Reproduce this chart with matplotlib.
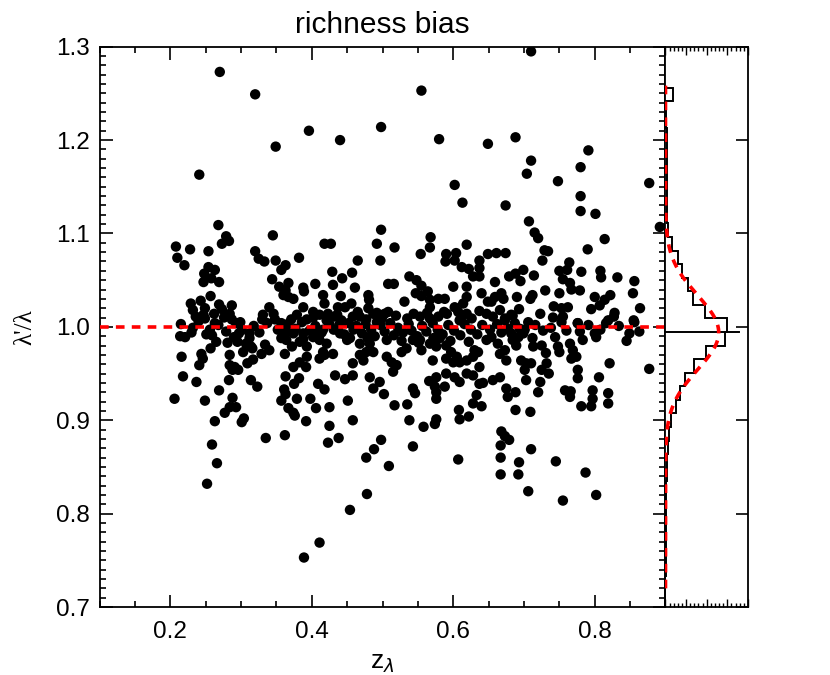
import numpy as np
import matplotlib
matplotlib.use('Agg')
import matplotlib.pyplot as plt
from matplotlib.ticker import MultipleLocator, FormatStrFormatter

plt.rcParams['font.family'] = ['Liberation Sans', 'DejaVu Sans']

# scatter points in strips (z_lambda, lambda'/lambda)
# strip 1: z < 0.43, above the line
z_a = [0.270, 0.320, 0.396, 0.349, 0.241, 0.268, 0.279, 0.283, 0.273, 0.345,
       0.418, 0.208, 0.228, 0.254, 0.210, 0.220, 0.320, 0.325, 0.333, 0.349,
       0.357, 0.363, 0.382, 0.254, 0.263, 0.248, 0.258, 0.247, 0.269, 0.344,
       0.354, 0.367, 0.363, 0.367, 0.374, 0.360, 0.388, 0.389, 0.405, 0.257,
       0.243, 0.229, 0.232, 0.249, 0.247, 0.249, 0.269, 0.273, 0.262, 0.287,
       0.284, 0.287, 0.299, 0.263, 0.331, 0.340, 0.346, 0.348, 0.357, 0.388,
       0.379, 0.393, 0.371, 0.402, 0.411, 0.416, 0.418]
r_a = [1.273, 1.249, 1.210, 1.193, 1.163, 1.109, 1.097, 1.092, 1.089, 1.098,
       1.089, 1.086, 1.083, 1.081, 1.074, 1.066, 1.081, 1.073, 1.070, 1.071,
       1.061, 1.066, 1.074, 1.064, 1.061, 1.057, 1.052, 1.048, 1.048, 1.051,
       1.043, 1.047, 1.039, 1.032, 1.030, 1.034, 1.042, 1.038, 1.046, 1.033,
       1.028, 1.025, 1.018, 1.020, 1.013, 1.009, 1.024, 1.019, 1.014, 1.023,
       1.014, 1.008, 1.005, 1.004, 1.013, 1.021, 1.014, 1.008, 1.004, 1.021,
       1.013, 1.008, 1.008, 1.010, 1.013, 1.034, 1.025]

# strip 2: z < 0.43, below the line
z_b = [0.214, 0.221, 0.230, 0.251, 0.265, 0.257, 0.281, 0.290, 0.297, 0.295,
       0.307, 0.314, 0.312, 0.216, 0.244, 0.246, 0.241, 0.284, 0.303, 0.316,
       0.334, 0.340, 0.329, 0.284, 0.291, 0.296, 0.288, 0.309, 0.317, 0.218,
       0.237, 0.283, 0.314, 0.323, 0.269, 0.206, 0.249, 0.288, 0.284, 0.293,
       0.277, 0.263, 0.301, 0.304, 0.259, 0.266, 0.252, 0.335, 0.362, 0.364,
       0.372, 0.383, 0.393, 0.402, 0.411, 0.421, 0.416, 0.407, 0.388, 0.374,
       0.364, 0.362, 0.374, 0.383, 0.393, 0.392, 0.411, 0.418, 0.416, 0.363,
       0.375, 0.382, 0.409, 0.418, 0.361, 0.363, 0.357, 0.379, 0.398, 0.406,
       0.367, 0.374, 0.376, 0.392, 0.425, 0.425, 0.423, 0.411, 0.389, 0.430,
       0.433]
r_b = [0.990, 0.989, 0.994, 0.992, 0.984, 0.977, 0.983, 0.989, 0.993, 0.984,
       0.982, 0.979, 0.993, 0.968, 0.971, 0.966, 0.959, 0.970, 0.973, 0.977,
       0.981, 0.975, 0.971, 0.959, 0.957, 0.954, 0.954, 0.961, 0.965, 0.947,
       0.941, 0.943, 0.943, 0.936, 0.932, 0.923, 0.921, 0.924, 0.914, 0.914,
       0.908, 0.899, 0.898, 0.902, 0.874, 0.854, 0.832, 0.881, 0.884, 0.986,
       0.979, 0.984, 0.979, 0.989, 0.986, 0.982, 0.997, 0.993, 0.993, 0.993,
       0.995, 0.971, 0.957, 0.962, 0.968, 0.957, 0.966, 0.970, 0.973, 0.947,
       0.939, 0.945, 0.939, 0.933, 0.933, 0.928, 0.921, 0.923, 0.923, 0.913,
       0.913, 0.908, 0.905, 0.899, 0.914, 0.894, 0.876, 0.769, 0.753, 0.971,
       0.948]

# strip 3: 0.42 < z < 0.65, above the line
z_c = [0.555, 0.498, 0.440, 0.580, 0.649, 0.602, 0.613, 0.498, 0.427, 0.492,
       0.517, 0.497, 0.568, 0.567, 0.554, 0.619, 0.590, 0.604, 0.589, 0.602,
       0.612, 0.622, 0.637, 0.637, 0.649, 0.628, 0.637, 0.619, 0.600, 0.465,
       0.429, 0.457, 0.443, 0.430, 0.461, 0.441, 0.508, 0.516, 0.538, 0.548,
       0.555, 0.547, 0.555, 0.564, 0.567, 0.579, 0.588, 0.567, 0.531, 0.480,
       0.481, 0.480, 0.487, 0.503, 0.508, 0.499, 0.492, 0.456, 0.447, 0.437,
       0.423, 0.433, 0.421, 0.442, 0.458, 0.468, 0.477, 0.602, 0.607, 0.619,
       0.626, 0.637, 0.647, 0.649, 0.640, 0.619, 0.614, 0.535, 0.553, 0.567,
       0.579, 0.591, 0.609]
r_c = [1.253, 1.214, 1.200, 1.201, 1.196, 1.152, 1.133, 1.104, 1.089, 1.089,
       1.085, 1.071, 1.096, 1.085, 1.078, 1.088, 1.078, 1.079, 1.070, 1.071,
       1.064, 1.062, 1.071, 1.063, 1.078, 1.054, 1.054, 1.043, 1.043, 1.071,
       1.059, 1.058, 1.052, 1.045, 1.042, 1.033, 1.046, 1.046, 1.054, 1.050,
       1.044, 1.036, 1.033, 1.038, 1.029, 1.030, 1.030, 1.021, 1.027, 1.034,
       1.029, 1.020, 1.014, 1.014, 1.016, 1.009, 1.005, 1.025, 1.021, 1.021,
       1.014, 1.011, 1.007, 1.007, 1.011, 1.011, 1.008, 1.021, 1.016, 1.014,
       1.009, 1.017, 1.014, 1.027, 1.036, 1.032, 1.025, 1.009, 1.011, 1.009,
       1.011, 1.014, 1.007]

# strip 4: 0.43 < z < 0.65, below the line
z_d = [0.440, 0.454, 0.468, 0.482, 0.477, 0.468, 0.458, 0.473, 0.487, 0.506,
       0.513, 0.520, 0.515, 0.527, 0.534, 0.543, 0.553, 0.555, 0.567, 0.576,
       0.581, 0.590, 0.597, 0.605, 0.609, 0.619, 0.628, 0.635, 0.637, 0.630,
       0.647, 0.447, 0.458, 0.482, 0.496, 0.487, 0.502, 0.517, 0.535, 0.543,
       0.546, 0.566, 0.576, 0.574, 0.588, 0.576, 0.576, 0.590, 0.602, 0.609,
       0.619, 0.628, 0.637, 0.642, 0.633, 0.628, 0.640, 0.608, 0.609, 0.622,
       0.571, 0.590, 0.600, 0.458, 0.438, 0.451, 0.498, 0.488, 0.477, 0.509,
       0.538, 0.558, 0.576, 0.574, 0.543, 0.607, 0.478, 0.454]
r_d = [0.993, 0.988, 0.982, 0.982, 0.973, 0.970, 0.961, 0.964, 0.973, 0.968,
       0.962, 0.959, 0.952, 0.973, 0.977, 0.986, 0.986, 0.975, 0.982, 0.979,
       0.988, 0.980, 0.973, 0.968, 0.962, 0.964, 0.968, 0.973, 0.957, 0.975,
       0.986, 0.944, 0.948, 0.946, 0.941, 0.934, 0.928, 0.916, 0.917, 0.934,
       0.929, 0.942, 0.946, 0.936, 0.936, 0.923, 0.930, 0.950, 0.946, 0.941,
       0.950, 0.948, 0.939, 0.940, 0.927, 0.918, 0.915, 0.911, 0.901, 0.904,
       0.964, 0.966, 0.962, 0.900, 0.881, 0.921, 0.879, 0.869, 0.860, 0.851,
       0.900, 0.893, 0.901, 0.896, 0.872, 0.858, 0.821, 0.804]

# strip 5: z > 0.65, above the line
z_e = [0.710, 0.688, 0.710, 0.704, 0.748, 0.791, 0.780, 0.877, 0.674, 0.780,
       0.780, 0.801, 0.707, 0.715, 0.720, 0.814, 0.790, 0.892, 0.729, 0.734,
       0.726, 0.661, 0.674, 0.699, 0.688, 0.679, 0.695, 0.714, 0.659, 0.750,
       0.764, 0.761, 0.755, 0.765, 0.767, 0.779, 0.781, 0.750, 0.742, 0.808,
       0.809, 0.832, 0.856, 0.854, 0.822, 0.814, 0.800, 0.807, 0.795, 0.828,
       0.864, 0.855, 0.819, 0.776, 0.755, 0.753, 0.762, 0.659, 0.668, 0.671,
       0.654, 0.656, 0.673, 0.682, 0.666, 0.690, 0.693, 0.709, 0.712, 0.730,
       0.723, 0.706, 0.677, 0.694]
r_e = [1.295, 1.203, 1.178, 1.164, 1.156, 1.189, 1.171, 1.154, 1.130, 1.140,
       1.124, 1.121, 1.113, 1.101, 1.095, 1.094, 1.083, 1.107, 1.082, 1.081,
       1.071, 1.079, 1.079, 1.061, 1.057, 1.054, 1.049, 1.055, 1.048, 1.060,
       1.069, 1.061, 1.051, 1.047, 1.040, 1.039, 1.059, 1.036, 1.022, 1.060,
       1.053, 1.053, 1.049, 1.036, 1.034, 1.029, 1.032, 1.023, 1.019, 1.015,
       1.020, 1.007, 1.007, 1.004, 1.011, 1.020, 1.021, 1.032, 1.036, 1.030,
       1.027, 1.011, 1.009, 1.013, 1.018, 1.032, 1.019, 1.030, 1.034, 1.039,
       1.014, 1.005, 0.998, 0.998]

# strip 6: z > 0.65, below the line
z_f = [0.654, 0.663, 0.673, 0.666, 0.675, 0.682, 0.684, 0.692, 0.689, 0.699,
       0.696, 0.703, 0.710, 0.701, 0.703, 0.713, 0.725, 0.731, 0.732, 0.725,
       0.735, 0.723, 0.748, 0.750, 0.765, 0.769, 0.774, 0.767, 0.776, 0.776,
       0.802, 0.800, 0.806, 0.821, 0.849, 0.863, 0.856, 0.816, 0.779, 0.727,
       0.753, 0.776, 0.673, 0.877, 0.656, 0.666, 0.675, 0.677, 0.688, 0.688,
       0.709, 0.720, 0.758, 0.765, 0.766, 0.781, 0.795, 0.797, 0.797, 0.819,
       0.819, 0.668, 0.673, 0.679, 0.667, 0.667, 0.667, 0.693, 0.692, 0.710,
       0.706, 0.745, 0.755, 0.787, 0.802]
r_f = [0.989, 0.982, 0.975, 0.971, 0.964, 0.993, 0.986, 0.989, 0.980, 0.993,
       0.964, 0.961, 0.961, 0.954, 0.943, 0.979, 0.980, 0.972, 0.961, 0.954,
       0.950, 0.941, 0.979, 0.973, 0.982, 0.975, 0.968, 0.966, 0.954, 0.945,
       0.989, 0.993, 0.946, 0.961, 0.993, 0.995, 1.005, 1.004, 0.995, 0.996,
       1.005, 1.004, 1.007, 0.955, 0.943, 0.946, 0.934, 0.925, 0.930, 0.911,
       0.909, 0.930, 0.932, 0.925, 0.931, 0.915, 0.915, 0.923, 0.932, 0.929,
       0.918, 0.888, 0.883, 0.879, 0.873, 0.860, 0.842, 0.855, 0.842, 0.869,
       0.824, 0.856, 0.814, 0.844, 0.820]

# the solid band right around 1.0
z_g = [0.215, 0.232, 0.240, 0.256, 0.268, 0.279, 0.293, 0.301, 0.318, 0.326,
       0.337, 0.352, 0.366, 0.377, 0.386, 0.397, 0.405, 0.414, 0.425, 0.431,
       0.439, 0.446, 0.452, 0.459, 0.463, 0.471, 0.476, 0.484, 0.489, 0.497,
       0.503, 0.511, 0.516, 0.522, 0.529, 0.537, 0.541, 0.549, 0.556, 0.562,
       0.571, 0.578, 0.585, 0.593, 0.601, 0.610, 0.616, 0.625, 0.634, 0.641,
       0.652, 0.662, 0.668, 0.687, 0.701, 0.716, 0.738, 0.744, 0.760, 0.791,
       0.808, 0.834, 0.436, 0.450, 0.465, 0.479, 0.492, 0.506, 0.519, 0.527,
       0.544, 0.551, 0.563, 0.572, 0.587, 0.596, 0.612, 0.622, 0.388, 0.402,
       0.357, 0.330, 0.312, 0.276, 0.259, 0.236, 0.684, 0.712, 0.741, 0.783,
       0.827, 0.845]
r_g = [1.003, 0.999, 1.006, 0.997, 1.002, 0.995, 1.004, 0.997, 1.001, 0.994,
       1.004, 0.997, 1.003, 0.998, 1.005, 0.996, 1.001, 0.994, 1.003, 0.997,
       1.002, 0.992, 1.004, 0.997, 1.001, 0.993, 1.003, 0.997, 0.990, 1.002,
       0.995, 1.004, 0.991, 0.999, 0.994, 1.003, 0.996, 0.990, 1.001, 0.995,
       1.004, 0.997, 0.992, 1.002, 0.996, 0.991, 1.003, 0.997, 0.992, 1.002,
       0.997, 1.003, 0.994, 1.004, 0.997, 1.002, 0.999, 0.989, 0.996, 1.002,
       0.997, 1.001, 1.013, 0.986, 1.016, 0.988, 1.015, 0.986, 1.012, 0.985,
       1.014, 0.983, 1.015, 0.988, 1.016, 0.985, 1.012, 0.984, 0.987, 1.016,
       0.988, 1.008, 0.988, 1.010, 0.991, 1.011, 1.012, 0.988, 1.010, 0.986,
       1.011, 0.985]

z_lambda = np.concatenate([z_a, z_b, z_c, z_d, z_e, z_f, z_g])
ratio = np.concatenate([r_a, r_b, r_c, r_d, r_e, r_f, r_g])

# side histogram (arbitrary units), bottom bin first
hist_lo, hist_hi = 0.704, 1.256
hist_counts = [0, 0, 0.4, 0.8, 0.4, 0.8, 0.8, 1.2, 1.2, 1.8,
               2.4, 3.3, 4.8, 7.2, 12.9, 18.1, 24.1, 34.1, 49.0, 72.3,
               74.3, 47.3, 32.9, 27.3, 20.1, 15.3, 8.1, 3.3, 1.8, 1.8,
               1.8, 1.8, 1.8, 1.8, 1.8, 0.8, 0.8, 8.8]
# gaussian fit drawn over it
gauss_amp, gauss_mu, gauss_sigma = 64.5, 0.994, 0.0396
gauss_range = (0.72, 1.26)
peak_mark = 89

fig = plt.figure(figsize=(8.3, 6.75), dpi=100)
ax = fig.add_axes([0.1199, 0.1007, 0.6819, 0.8301])
axh = fig.add_axes([0.8018, 0.1007, 0.0994, 0.8301])

ax.scatter(z_lambda, ratio, s=56, c='black', edgecolors='none', zorder=2)
ax.axhline(1.0, color='red', lw=2.6, dashes=(2.4, 2.0), zorder=3)

ax.set_xlim(0.1, 0.9)
ax.set_ylim(0.7, 1.3)
ax.xaxis.set_major_locator(MultipleLocator(0.2))
ax.xaxis.set_minor_locator(MultipleLocator(0.05))
ax.yaxis.set_major_locator(MultipleLocator(0.1))
ax.yaxis.set_minor_locator(MultipleLocator(0.01))
ax.yaxis.set_major_formatter(FormatStrFormatter('%.1f'))
ax.xaxis.set_major_formatter(FormatStrFormatter('%.1f'))
ax.tick_params(which='both', direction='in', top=True, right=True, width=1.2,
               labelsize=17.5)
ax.tick_params(axis='x', pad=10)
ax.tick_params(axis='y', pad=7)
ax.tick_params(which='major', length=9)
ax.tick_params(which='minor', length=4.5)
for s in ax.spines.values():
    s.set_linewidth(1.3)

ax.set_title('richness bias', fontsize=21.5, pad=10)
ax.set_xlabel('z$_{λ}$', fontsize=19, labelpad=6)
ax.set_ylabel("λ'/λ", fontsize=18, labelpad=14, family=['Liberation Serif', 'DejaVu Serif'])

# side panel
edges = np.linspace(hist_lo, hist_hi, len(hist_counts) + 1)
axh.stairs(hist_counts, edges, orientation='horizontal', color='black', lw=1.4, baseline=0)
gy = np.linspace(gauss_range[0], gauss_range[1], 400)
gx = gauss_amp * np.exp(-0.5 * ((gy - gauss_mu) / gauss_sigma) ** 2)
axh.plot(gx, gy, color='red', lw=2.6, dashes=(2.4, 2.0), zorder=3)
axh.plot([0, peak_mark], [gauss_mu, gauss_mu], color='black', lw=1.4)

axh.set_xlim(0, 100)
axh.set_ylim(0.7, 1.3)
axh.yaxis.set_major_locator(MultipleLocator(0.1))
axh.xaxis.set_major_locator(MultipleLocator(25))
axh.xaxis.set_minor_locator(MultipleLocator(5))
axh.tick_params(axis='y', which='both', left=False, right=True, direction='in',
                length=9, width=1.2, labelleft=False)
axh.tick_params(axis='x', which='both', top=True, bottom=True, direction='in',
                width=1.0, labelbottom=False)
axh.tick_params(axis='x', which='major', length=6)
axh.tick_params(axis='x', which='minor', length=3)
for s in axh.spines.values():
    s.set_linewidth(1.3)

fig.savefig('out.png', dpi=100)
